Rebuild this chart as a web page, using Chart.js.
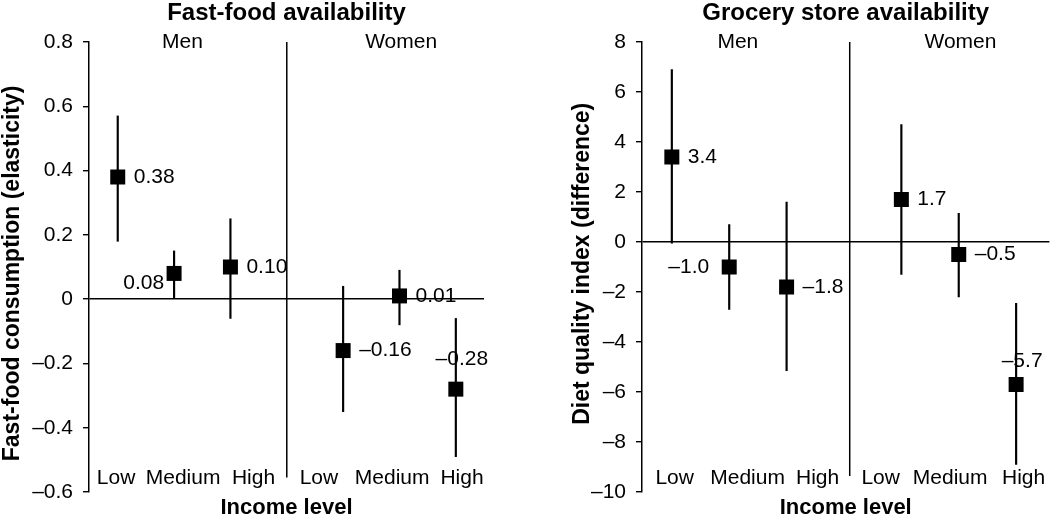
<!DOCTYPE html>
<html>
<head>
<meta charset="utf-8">
<script src="https://cdn.jsdelivr.net/npm/chart.js@4.4.1/dist/chart.umd.min.js"></script>
<style>
  html, body { margin: 0; padding: 0; background: #fff; overflow: hidden; }
  .panel { position: absolute; top: 0; height: 519px; }
</style>
</head>
<body>
<div class="panel" style="left:0;width:525px"><canvas id="fastfood" width="525" height="519"></canvas></div>
<div class="panel" style="left:525px;width:535px"><canvas id="grocery" width="535" height="519"></canvas></div>
<script>
// --- data ---
const incomeLevels = ['Low', 'Medium', 'High', 'Low', 'Medium', 'High'];
const xPositions = [0, 1, 2, 4, 5, 6];
// the income labels are not centred under the markers in the original
const fastFoodLabelX = [-0.03, 1.16, 2.41, 3.57, 4.87, 6.11];
const groceryLabelX = [0.05, 1.32, 2.54, 3.64, 4.85, 6.13];
const groups = ['Men', 'Women'];
const groupX = [1.15, 5.03];

const fastFoodValues = [0.38, 0.08, 0.10, -0.16, 0.01, -0.28];
const fastFoodLow = [0.18, 0.00, -0.06, -0.35, -0.08, -0.49];
const fastFoodHigh = [0.57, 0.15, 0.25, 0.04, 0.09, -0.06];

const groceryValues = [3.4, -1.0, -1.8, 1.7, -0.5, -5.7];
const groceryLow = [-0.05, -2.7, -5.15, -1.3, -2.2, -8.9];
const groceryHigh = [6.9, 0.7, 1.6, 4.7, 1.15, -2.45];

// where each value label sits relative to its marker
const fastFoodLabelPos = ['right', 'lowerleft', 'right', 'right', 'right', 'above'];
const groceryLabelPos = ['right', 'left', 'right', 'right', 'right', 'above'];

const FONT = "'Liberation Sans', Arial, sans-serif";
Chart.defaults.color = '#000';
Chart.defaults.font.family = FONT;

const dash = (v, d) => (v < 0 ? '\u2013' + Math.abs(v).toFixed(d) : v.toFixed(d));

// Draws Men/Women headers and the value next to each marker
const annotatePlugin = {
  id: 'annotate',
  afterDatasetsDraw(chart, args, opts) {
    const { ctx } = chart;
    const x = chart.scales.x;
    const y = chart.scales.y;
    ctx.save();
    ctx.fillStyle = '#000';
    ctx.font = `21px ${FONT}`;
    ctx.textBaseline = 'middle';
    ctx.textAlign = 'center';
    groups.forEach((g, i) => {
      ctx.fillText(g, x.getPixelForValue(groupX[i]), y.getPixelForValue(y.max));
    });

    const meta = chart.getDatasetMeta(2);
    meta.data.forEach((pt, i) => {
      const text = dash(opts.values[i], opts.decimals);
      const pos = opts.labelPos[i];
      if (pos === 'right') {
        ctx.textAlign = 'left';
        ctx.fillText(text, pt.x + 16, pt.y);
      } else if (pos === 'left') {
        ctx.textAlign = 'right';
        ctx.fillText(text, pt.x - 20, pt.y);
      } else if (pos === 'lowerleft') {
        ctx.textAlign = 'right';
        ctx.fillText(text, pt.x - 10, pt.y + 10);
      } else {
        ctx.textAlign = 'center';
        ctx.fillText(text, pt.x + 6, pt.y - opts.aboveGap);
      }
    });
    ctx.restore();
  }
};

function makeChart(id, cfg) {
  const ctx = document.getElementById(id).getContext('2d');
  return new Chart(ctx, {
    type: 'scatter',
    data: {
      datasets: [
        {
          // vertical divider between men and women
          type: 'line',
          data: [{ x: cfg.dividerX, y: cfg.yMax }, { x: cfg.dividerX, y: cfg.dividerBottom }],
          borderColor: '#000',
          borderWidth: 1.5,
          pointRadius: 0,
          order: 3,
        },
        {
          // confidence intervals
          type: 'bar',
          data: cfg.low.map((lo, i) => ({ x: xPositions[i], y: [lo, cfg.high[i]] })),
          backgroundColor: '#000',
          barThickness: 1.5,
          order: 2,
        },
        {
          type: 'scatter',
          data: cfg.values.map((v, i) => ({ x: xPositions[i], y: v })),
          pointStyle: 'rect',
          pointRadius: 10.6,
          pointHoverRadius: 10.6,
          backgroundColor: '#000',
          borderWidth: 0,
          order: 1,
        },
      ],
    },
    options: {
      responsive: false,
      devicePixelRatio: 1,
      animation: false,
      events: [],
      layout: { padding: { left: 0, top: 0, bottom: 0, right: cfg.padRight } },
      plugins: {
        legend: { display: false },
        tooltip: { enabled: false },
        title: {
          display: true,
          text: cfg.title,
          fullSize: false,
          font: { size: 24, weight: 'bold', lineHeight: 1.1 },
          padding: { top: 0, bottom: 15.6 },
        },
        annotate: {
          values: cfg.values,
          decimals: cfg.decimals,
          labelPos: cfg.labelPos,
          aboveGap: cfg.aboveGap,
        },
      },
      scales: {
        x: {
          type: 'linear',
          min: cfg.xMin,
          max: cfg.xMax,
          offset: false,
          afterBuildTicks: (scale) => {
            scale.ticks = cfg.labelX.map((v) => ({ value: v }));
          },
          afterFit: (scale) => {
            scale.height = 27;
            scale.paddingLeft = 0;
            scale.paddingRight = 0;
          },
          ticks: {
            autoSkip: false,
            maxRotation: 0,
            mirror: true,
            padding: 1.6,
            font: { size: 21 },
            callback: (v, i) => incomeLevels[i],
          },
          grid: { display: false, drawTicks: false },
          border: { display: false },
          title: {
            display: true,
            text: 'Income level',
            font: { size: 22, weight: 'bold', lineHeight: 1 },
            padding: 0,
          },
        },
        y: {
          min: cfg.yMin,
          max: cfg.yMax,
          ticks: {
            stepSize: cfg.yStep,
            padding: 10,
            font: { size: 21 },
            callback: (v) => (Math.abs(v) < 1e-9 ? '0' : dash(v, cfg.tickDecimals)),
          },
          afterFit: (scale) => { scale.width = cfg.yAxisWidth; },
          grid: {
            color: (c) => (c.tick && Math.abs(c.tick.value) < 1e-9 ? '#000' : 'rgba(0,0,0,0)'),
            lineWidth: 1.4,
            tickColor: '#000',
            tickLength: 6,
          },
          border: { display: true, color: '#000', width: 1.5 },
          title: {
            display: true,
            text: cfg.yTitle,
            font: { size: 23, weight: 'bold', lineHeight: 1 },
            padding: { top: cfg.yTitlePad, bottom: 0 },
          },
        },
      },
    },
    plugins: [annotatePlugin],
  });
}

makeChart('fastfood', {
  title: 'Fast-food availability',
  yTitle: 'Fast-food consumption (elasticity)  ',
  values: fastFoodValues,
  low: fastFoodLow,
  high: fastFoodHigh,
  labelPos: fastFoodLabelPos,
  labelX: fastFoodLabelX,
  decimals: 2,
  tickDecimals: 1,
  yMin: -0.6,
  yMax: 0.8,
  yStep: 0.2,
  xMin: -0.51,
  xMax: 6.5,
  dividerX: 3,
  dividerBottom: -0.555,
  yAxisWidth: 89,
  yTitlePad: 1,
  padRight: 41,
  aboveGap: 30,
});

makeChart('grocery', {
  title: 'Grocery store availability',
  yTitle: ' Diet quality index (difference)',
  values: groceryValues,
  low: groceryLow,
  high: groceryHigh,
  labelPos: groceryLabelPos,
  labelX: groceryLabelX,
  decimals: 1,
  tickDecimals: 0,
  yMin: -10,
  yMax: 8,
  yStep: 2,
  xMin: -0.52,
  xMax: 6.58,
  dividerX: 3.1,
  dividerBottom: -9.36,
  yAxisWidth: 117,
  yTitlePad: 46,
  padRight: 0,
  aboveGap: 23,
});
</script>
</body>
</html>
